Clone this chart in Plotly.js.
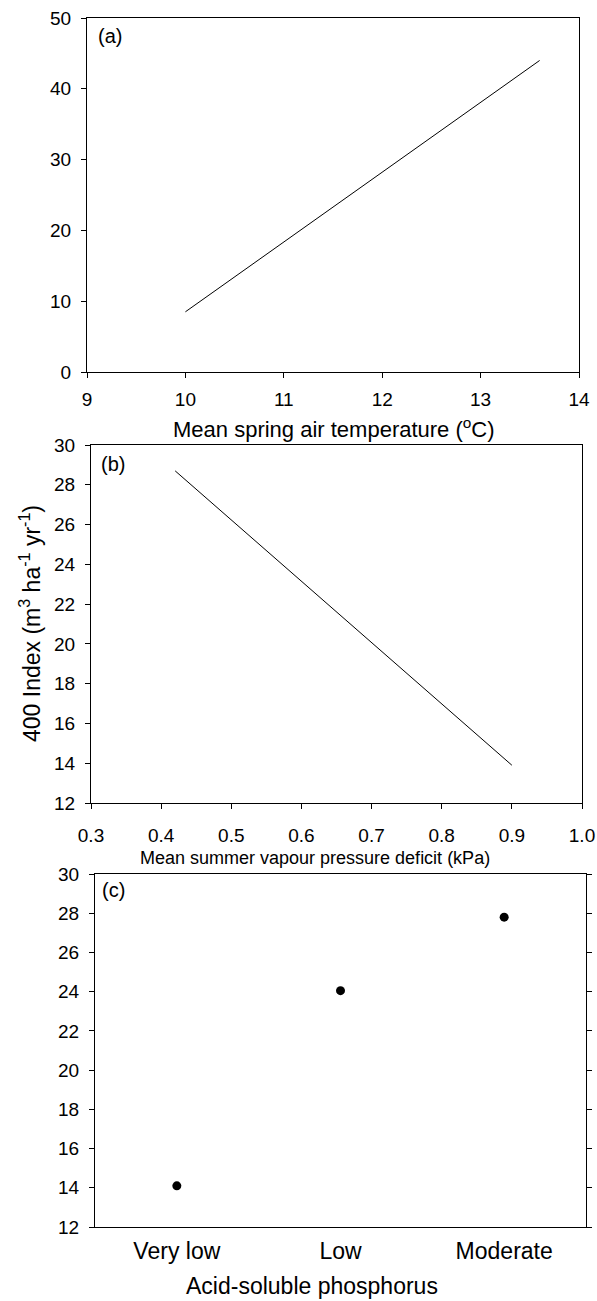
<!DOCTYPE html>
<html>
<head>
<meta charset="utf-8">
<script src="https://cdn.plot.ly/plotly-3.0.1.min.js"></script>
<style>html,body{margin:0;padding:0;background:#fff;}#chart{width:597px;height:1301px;}</style>
</head>
<body>
<div id="chart"></div>
<script>
// Panel (a): fitted line vs mean spring air temperature
const tempX = [10, 13.6];
const tempY = [8.5, 44];
// Panel (b): fitted line vs mean summer vapour pressure deficit
const vpdX = [0.42, 0.9];
const vpdY = [28.7, 13.9];
// Panel (c): means by acid-soluble phosphorus class
const phosCats = ['Very low', 'Low', 'Moderate'];
const phosY = [14.1, 24.05, 27.8];

const W = 597, H = 1301;
const px = x => x / W;
const py = y => 1 - y / H;
const FONT = 'Liberation Sans, Arial, Helvetica, sans-serif';
const TICKF = {family: FONT, size: 19, color: '#000'};
const LABF = {family: FONT, size: 20, color: '#000'};

const baseAxis = {
  showline: true, linecolor: '#000', linewidth: 1, mirror: true,
  ticks: 'outside', ticklen: 5, tickwidth: 1, tickcolor: '#000',
  showgrid: false, zeroline: false, tickfont: TICKF, fixedrange: true
};

const traces = [
  {x: tempX, y: tempY, type: 'scatter', mode: 'lines', line: {color: '#000', width: 1}, xaxis: 'x', yaxis: 'y', showlegend: false, hoverinfo: 'skip'},
  {x: vpdX, y: vpdY, type: 'scatter', mode: 'lines', line: {color: '#000', width: 1}, xaxis: 'x2', yaxis: 'y2', showlegend: false, hoverinfo: 'skip'},
  {x: phosCats, y: phosY, type: 'scatter', mode: 'markers', marker: {color: '#000', size: 9}, xaxis: 'x3', yaxis: 'y3', showlegend: false, hoverinfo: 'skip'}
];

const layout = {
  width: W, height: H,
  margin: {l: 0, r: 0, t: 0, b: 0},
  paper_bgcolor: '#fff', plot_bgcolor: '#fff',
  showlegend: false,
  font: {family: FONT, color: '#000'},
  xaxis: Object.assign({}, baseAxis, {domain: [px(87), px(579)], range: [9, 14], dtick: 1, tick0: 9, ticklabelstandoff: 5, anchor: 'y'}),
  yaxis: Object.assign({}, baseAxis, {domain: [py(372), py(18)], range: [0, 50], dtick: 10, tick0: 0, ticklabelstandoff: 6, anchor: 'x'}),
  xaxis2: Object.assign({}, baseAxis, {domain: [px(91), px(582)], range: [0.3, 1.0], dtick: 0.1, tick0: 0.3, tickformat: '.1f', ticklabelstandoff: 10, anchor: 'y2'}),
  yaxis2: Object.assign({}, baseAxis, {domain: [py(803), py(445)], range: [12, 30], dtick: 2, tick0: 12, ticklabelstandoff: 6, anchor: 'x2'}),
  xaxis3: Object.assign({}, baseAxis, {domain: [px(95), px(586)], type: 'category', range: [-0.5, 2.5], ticks: '', ticklabelstandoff: 3, tickfont: {family: FONT, size: 23, color: '#000'}, anchor: 'y3'}),
  yaxis3: Object.assign({}, baseAxis, {domain: [py(1227), py(874)], range: [12, 30], dtick: 2, tick0: 12, mirror: 'ticks', ticklabelstandoff: 6, anchor: 'x3'}),
  annotations: [
    {text: '(a)', xref: 'paper', yref: 'paper', x: px(96), y: py(36), xanchor: 'left', yanchor: 'middle', showarrow: false, font: LABF},
    {text: '(b)', xref: 'paper', yref: 'paper', x: px(99), y: py(464), xanchor: 'left', yanchor: 'middle', showarrow: false, font: LABF},
    {text: '(c)', xref: 'paper', yref: 'paper', x: px(100), y: py(890), xanchor: 'left', yanchor: 'middle', showarrow: false, font: LABF},
    {text: 'Mean spring air temperature (<sup>o</sup>C)', xref: 'paper', yref: 'paper', x: px(334), y: py(428), xanchor: 'center', yanchor: 'middle', showarrow: false, font: {family: FONT, size: 22, color: '#000'}},
    {text: 'Mean summer vapour pressure deficit (kPa)', xref: 'paper', yref: 'paper', x: px(315), y: py(858), xanchor: 'center', yanchor: 'middle', showarrow: false, font: {family: FONT, size: 18, color: '#000'}},
    {text: 'Acid-soluble phosphorus', xref: 'paper', yref: 'paper', x: px(312), y: py(1286), xanchor: 'center', yanchor: 'middle', showarrow: false, font: {family: FONT, size: 23, color: '#000'}},
    {text: '400 Index (m<sup>3</sup> ha<sup>-1</sup> yr<sup>-1</sup>)', xref: 'paper', yref: 'paper', x: px(30), y: py(624), xanchor: 'center', yanchor: 'middle', textangle: -90, showarrow: false, font: {family: FONT, size: 23, color: '#000'}}
  ]
};

Plotly.newPlot('chart', traces, layout, {staticPlot: true, displayModeBar: false});
</script>
</body>
</html>
